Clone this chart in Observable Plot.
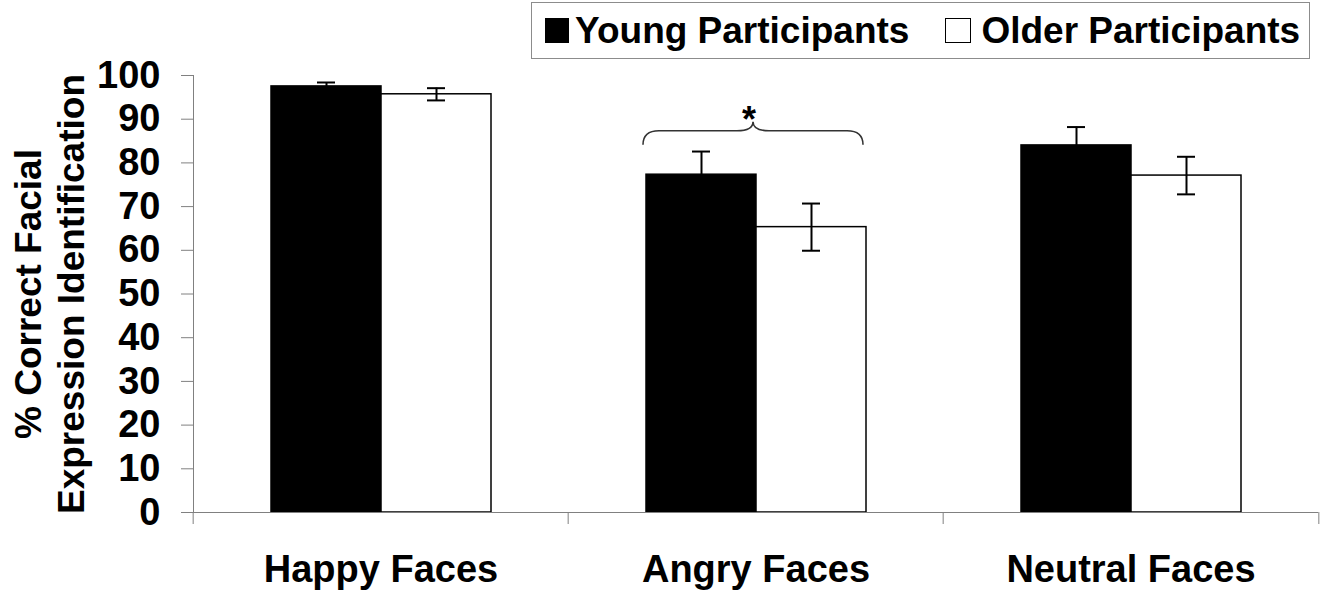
<!DOCTYPE html>
<html>
<head>
<meta charset="utf-8">
<script src="https://cdn.jsdelivr.net/npm/d3@7"></script>
<script src="https://cdn.jsdelivr.net/npm/@observablehq/plot@0.6"></script>
<style>
  body { margin: 0; background: #fff; font-family: "Liberation Sans", Arial, sans-serif; }
  #wrap { width: 1329px; }
  #legendRow { position: relative; height: 60px; }
  #legend { position: absolute; left: 531px; top: 2px; width: 779px; height: 57px; box-sizing: border-box;
            border: 1px solid #8c8c8c; display: flex; align-items: center; padding-left: 13px;
            font-weight: bold; font-size: 37px; color: #000; white-space: nowrap; }
  .sw { width: 24px; height: 25px; box-sizing: border-box; border: 1px solid #000; margin-right: 6px; flex: none; }
  .item { display: flex; align-items: center; }
  .item + .item { margin-left: 36px; }
  .item + .item .sw { width: 26px; margin-right: 10px; }
</style>
</head>
<body>
<div id="wrap">
  <div id="legendRow"><div id="legend"></div></div>
  <div id="chart"></div>
</div>
<script>
// ---- data ----
const categories = ["Happy Faces", "Angry Faces", "Neutral Faces"];
const groups = ["Young Participants", "Older Participants"];
const groupColors = ["#000000", "#ffffff"];
const youngValues = [97.5, 77.3, 84.0];
const youngErrors = [0.9, 5.3, 4.2];
const olderValues = [95.7, 65.3, 77.1];
const olderErrors = [1.4, 5.4, 4.3];
const yTicks = [0, 10, 20, 30, 40, 50, 60, 70, 80, 90, 100];
const yTitle = "% Correct Facial\nExpression Identification";
const significance = [{category: "Angry Faces", y: 87.25, label: "*"}];

const rows = categories.flatMap((c, i) => [
  {category: c, group: groups[0], value: youngValues[i], err: youngErrors[i]},
  {category: c, group: groups[1], value: olderValues[i], err: olderErrors[i]}
]);

// ---- legend ----
const legend = document.getElementById("legend");
groups.forEach((g, i) => {
  const item = document.createElement("div");
  item.className = "item";
  const sw = document.createElement("div");
  sw.className = "sw";
  sw.style.background = groupColors[i];
  const t = document.createElement("span");
  t.textContent = g;
  item.append(sw, t);
  legend.append(item);
});

// ---- chart ----
const W = 1329, H = 537, ML = 192, MR = 10, MT = 15, MB = 85;
const bw = (W - ML - MR) / categories.length;
const axisGray = "#808080";

const plot = Plot.plot({
  width: W, height: H,
  marginLeft: ML, marginRight: MR, marginTop: MT, marginBottom: MB,
  style: {fontFamily: "'Liberation Sans', Arial, sans-serif", fontWeight: "bold", color: "#000", background: "#fff", overflow: "visible"},
  fx: {domain: categories, padding: 0, label: null},
  x: {domain: groups, paddingInner: 0, paddingOuter: 0.69, axis: null},
  y: {domain: [0, 100], label: null},
  color: {domain: groups, range: groupColors},
  marks: [
    Plot.frame({anchor: "left", facetAnchor: "left", stroke: axisGray}),
    Plot.barY(rows, {fx: "category", x: "group", y: "value", fill: "group", stroke: "#000", strokeWidth: 1.5}),
    Plot.ruleY([0], {stroke: axisGray, strokeWidth: 1.2}),
    Plot.ruleX(rows, {fx: "category", x: "group", y1: d => d.value - d.err, y2: d => d.value + d.err, stroke: "#000", strokeWidth: 2}),
    Plot.tickY(rows, {fx: "category", x: "group", y: d => d.value + d.err, insetLeft: 46, insetRight: 46, stroke: "#000", strokeWidth: 2}),
    Plot.tickY(rows, {fx: "category", x: "group", y: d => d.value - d.err, insetLeft: 46, insetRight: 46, stroke: "#000", strokeWidth: 2}),
    Plot.axisY({ticks: yTicks, tickSize: 12, tickPadding: 21, fontSize: 38, stroke: axisGray, label: null}),
    Plot.axisFx({anchor: "bottom", tickSize: 0, tickPadding: 43, fontSize: 38, label: null}),
    Plot.axisFx({anchor: "bottom", tickSize: 12, text: null, label: null, dx: -bw / 2, stroke: axisGray}),
    Plot.axisFx({anchor: "bottom", ticks: [categories[categories.length - 1]], tickSize: 12, text: null, label: null, dx: bw / 2, stroke: axisGray}),
    Plot.text([{category: categories[0], t: yTitle}], {
      fx: "category", text: "t", frameAnchor: "left", rotate: -90, dx: -145, lineHeight: 1.18,
      fontSize: 37, fontWeight: "bold", fill: "#000", textAnchor: "middle"
    }),
    Plot.ruleY(significance, {
      fx: "category", y: "y",
      render: (index, scales, values, dimensions, context) => {
        if (!index.length) return null;
        const {x, y} = scales;
        const bwx = typeof x.bandwidth === "function" ? x.bandwidth() : x.bandwidth;
        const x0 = x(groups[0]) - 3, x1 = x(groups[1]) + bwx - 3, xm = (x0 + x1) / 2;
        const g = d3.create("svg:g");
        for (const i of index) {
          const yb = y(significance[i].y);
          const r = 16, drop = 14, rise = 9;
          g.append("path")
            .attr("fill", "none").attr("stroke", "#333").attr("stroke-width", 1.6)
            .attr("d", `M${x0},${yb + drop} Q${x0},${yb} ${x0 + r},${yb} L${xm - r},${yb} Q${xm},${yb} ${xm},${yb - rise} Q${xm},${yb} ${xm + r},${yb} L${x1 - r},${yb} Q${x1},${yb} ${x1},${yb + drop}`);
          g.append("text")
            .attr("x", xm - 4).attr("y", yb + 1)
            .attr("text-anchor", "middle").attr("font-size", 36).attr("font-weight", "bold")
            .attr("fill", "#000").text(significance[i].label);
        }
        return g.node();
      }
    })
  ]
});
document.getElementById("chart").append(plot);
</script>
</body>
</html>
